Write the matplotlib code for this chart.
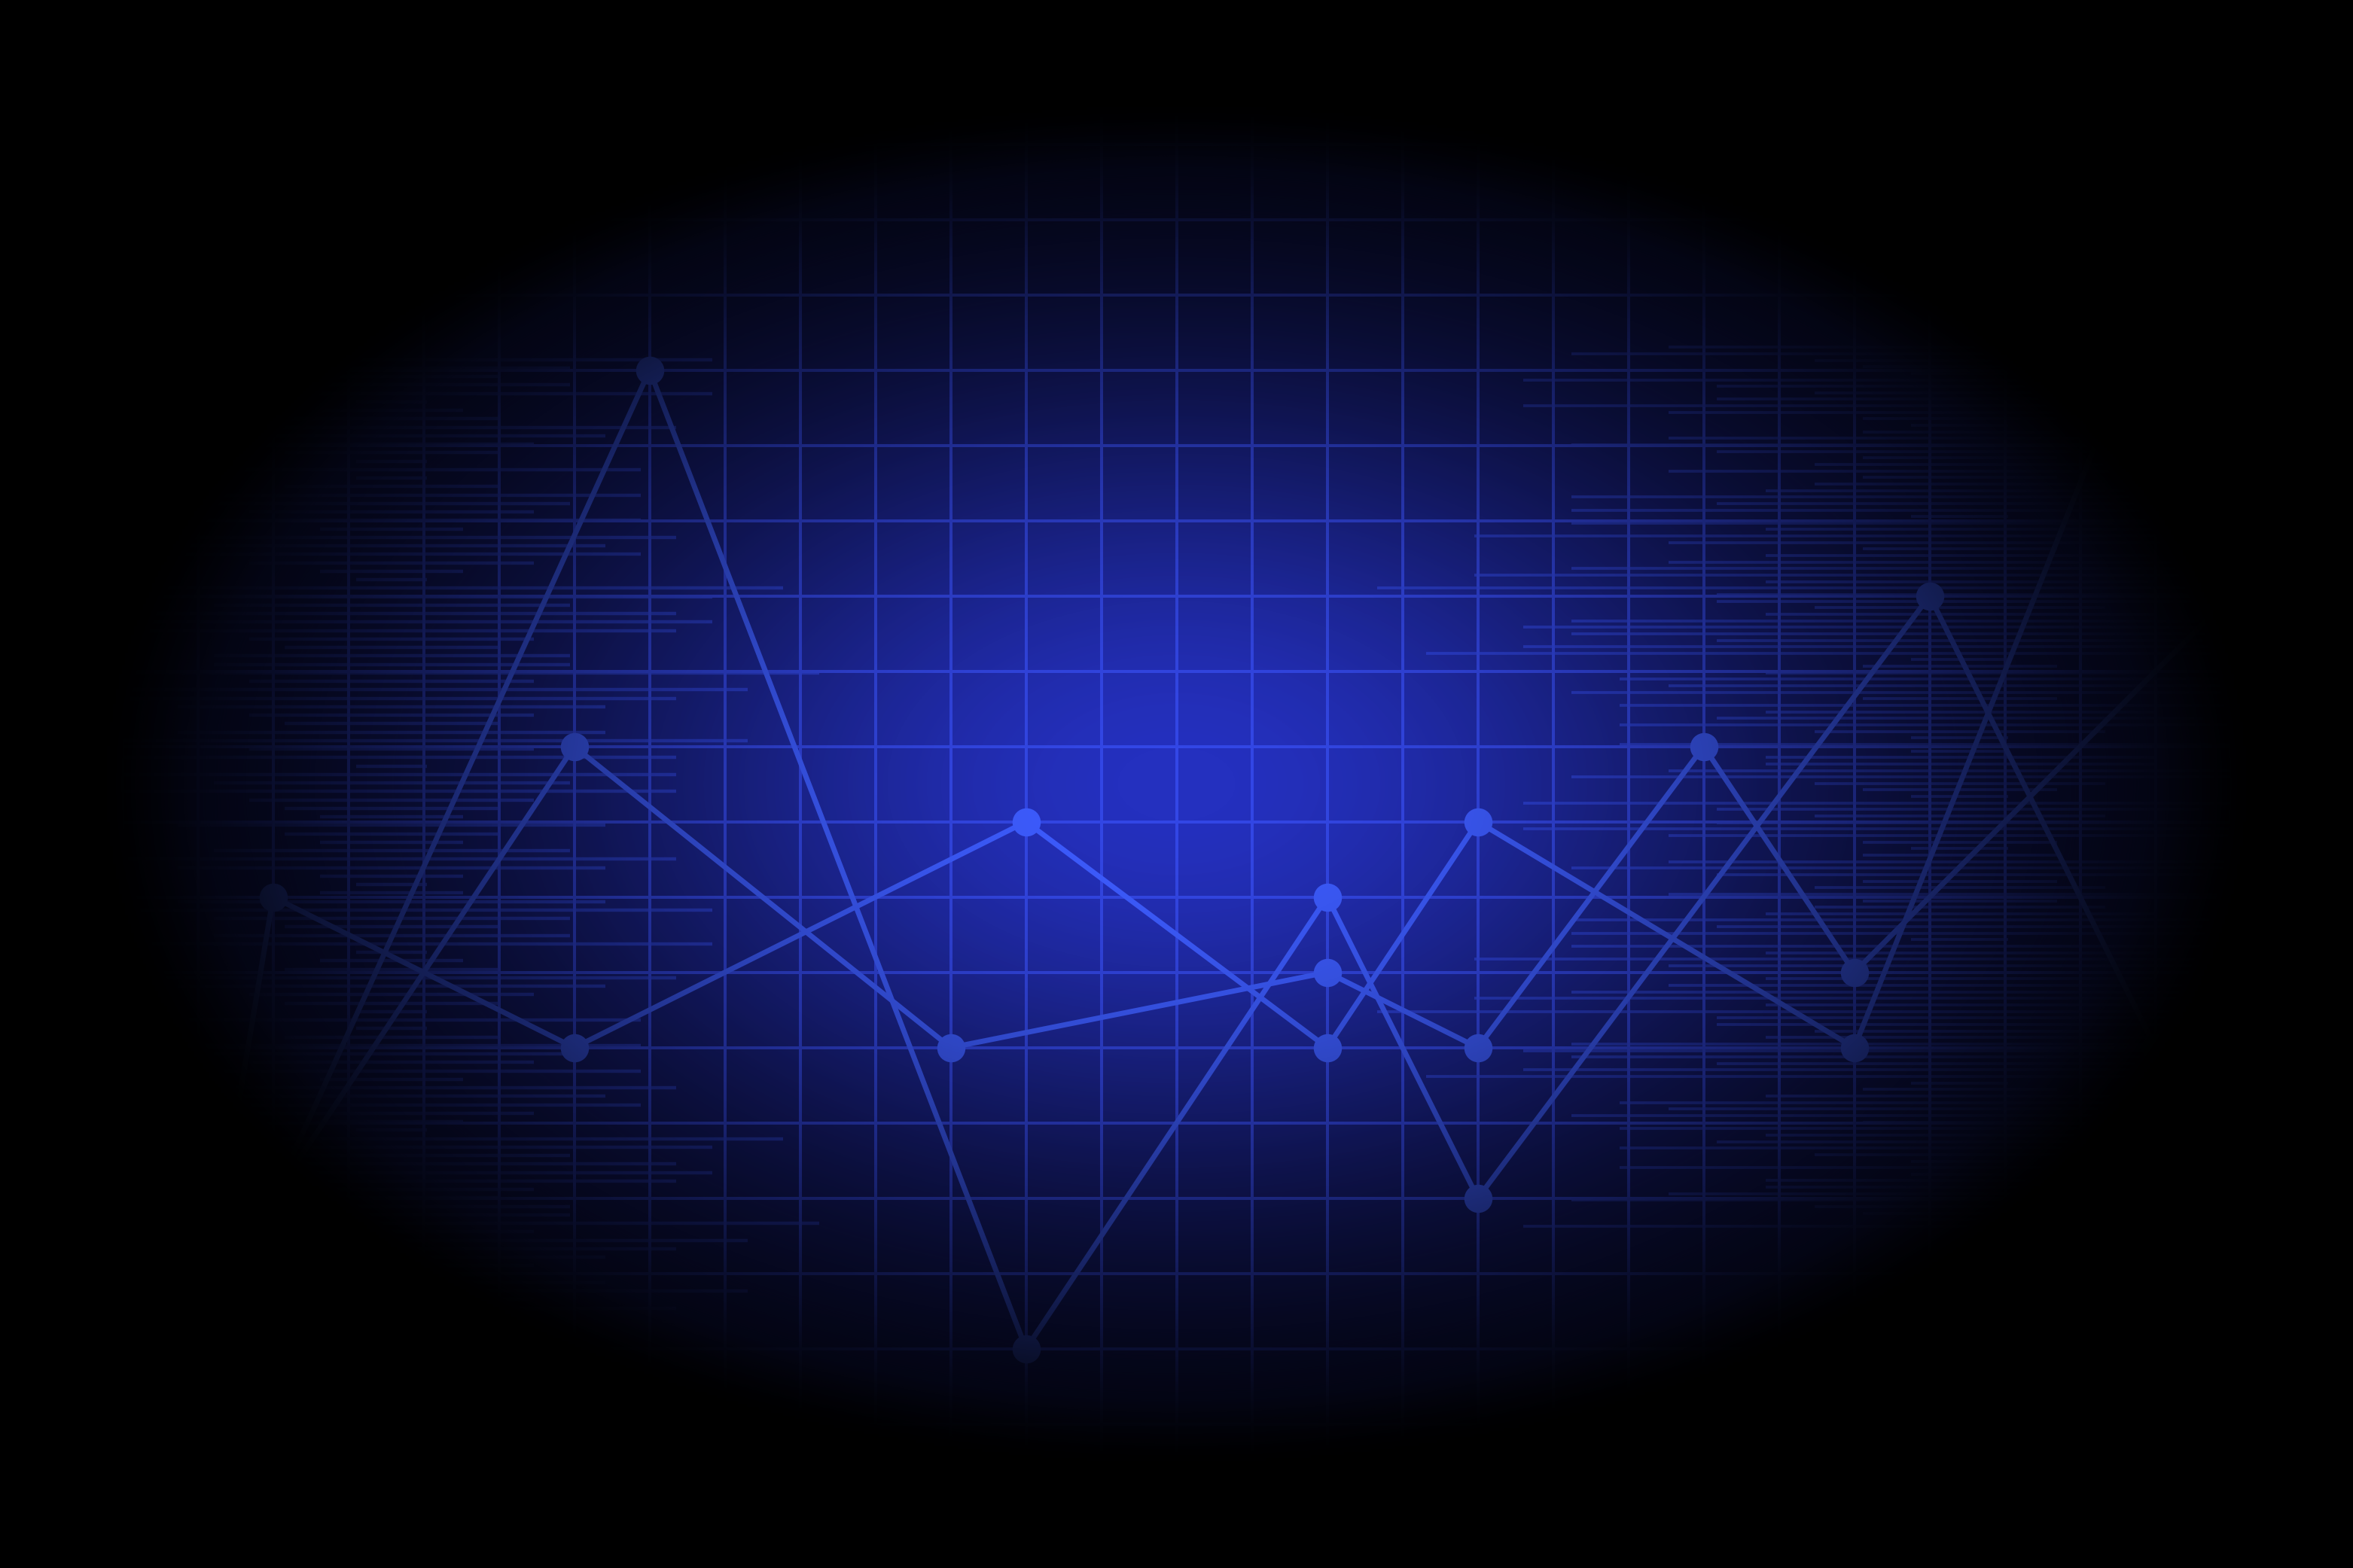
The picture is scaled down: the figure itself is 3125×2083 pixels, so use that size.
import numpy as np
import matplotlib
matplotlib.use("Agg")
import matplotlib.pyplot as plt

# ---------------- data (grid units: x = column index, y = level) ----------------
series_a_x = [2, 3, 7, 13, 17, 19, 24, 28]
series_a_y = [3, 9, 7, 10, 7, 10, 7, 17]
series_b_x = [3, 7, 12, 17, 19, 22, 24, 29]
series_b_y = [5, 11, 7, 8, 7, 11, 8, 13]
series_c_x = [3, 8, 13, 17, 19, 25, 28]
series_c_y = [5, 16, 3, 9, 5, 13, 7]

# half-lengths (in bar units) of the horizontal bar strips, one repeating block of 65 rows
left_bar_len = [8, 6, 4, 3, 1, 7, 1, 3, 7, 5, 4, 7, 2,
                8, 6, 7, 4, 2, 1, 11, 9, 5, 8, 9, 8, 4, 3, 5, 5, 12, 4, 10, 8, 6, 4, 3, 6, 10, 4, 8,
                1, 8, 5, 8, 4, 3, 2, 6, 3, 2, 5, 8,
                6, 2, 1, 2, 6, 9, 5, 3, 5, 9, 1, 2, 3]
right_bar_len = [6, 8, 3, 2, 1, 9, 5, 3, 5, 9, 6, 2, 1, 2, 6, 8, 5, 2, 3, 6, 2, 3, 4, 8, 5,
                 8, 1, 8, 4, 10, 6, 2, 4, 6, 8, 10, 4, 12, 5, 5, 3, 4, 8, 9, 8, 5, 9, 11, 1, 2,
                 4, 7, 6, 8, 2, 7, 4, 5, 7, 3, 1, 7, 1, 4, 4]

# ---------------- figure ----------------
W, H, DPI = 3125, 2083, 100
fig = plt.figure(figsize=(W / DPI, H / DPI), dpi=DPI)
fig.patch.set_facecolor("black")
ax = fig.add_axes([0, 0, 1, 1])
ax.set_axis_off()
X0, X1 = -0.627, 30.623
Y0, Y1 = 0.087, 20.917
ax.set_xlim(X0, X1)
ax.set_ylim(Y0, Y1)

# radial falloff fields
nx, ny = 780, 520
gx = np.linspace(X0, X1, nx)
gy = np.linspace(Y1, Y0, ny)
GX, GY = np.meshgrid(gx, gy)
cx, cy = (X0 + X1) / 2, (Y0 + Y1) / 2
r = np.sqrt(((GX - cx) / 14.2) ** 2 + ((GY - cy) / 9.0) ** 2)
m = np.clip(1 - r ** 2, 0, 1) ** 1.3                       # vignette on everything
b = np.exp(-(r / 0.6) ** 2)                                # background glow
g = np.clip(b / np.maximum(m, 1e-4), 0, 1)

base = np.array([37, 49, 192]) / 255.0
bg = g[..., None] * base
ax.imshow(bg, extent=[X0, X1, Y0, Y1], aspect="auto", zorder=0, interpolation="bilinear")

# grid
grid_col = "#3347e6"
ax.vlines(np.arange(0, 31), Y0, Y1, color=grid_col, lw=2.9, zorder=1)
ax.hlines(np.arange(1, 21), X0, X1, color=grid_col, lw=2.9, zorder=1)

# bar strips
bar_col = "#3248e4"
left_rows = np.arange(-8, 105)
left_y = 20 - (567.6 + 11.25 * left_rows - 91.7) / 100
left_len = np.array([left_bar_len[n % 65] for n in left_rows])
lc, lu = 4.573, 0.473
ax.hlines(left_y, lc - left_len * lu, lc + left_len * lu, color=bar_col, lw=3.2, alpha=0.72, zorder=2)

right_rows = np.arange(0, 136)
right_y = 20 - (461.3 + 8.65 * right_rows - 91.7) / 100
right_len = np.array([right_bar_len[n % 65] for n in right_rows])
rc, ru = 25.403, 0.645
ax.hlines(right_y, rc - right_len * ru, rc + right_len * ru, color=bar_col, lw=2.7, alpha=0.72, zorder=2)

# series
line_col = "#3d5cff"
for xs, ys in [(series_a_x, series_a_y), (series_b_x, series_b_y), (series_c_x, series_c_y)]:
    ax.plot(xs, ys, color=line_col, lw=5.0, zorder=3, solid_capstyle="round")
    ax.plot(xs, ys, "o", color=line_col, ms=27, mew=0, zorder=4)

# vignette overlay
ov = np.zeros((ny, nx, 4))
ov[..., 3] = 1 - m
ax.imshow(ov, extent=[X0, X1, Y0, Y1], aspect="auto", zorder=10, interpolation="bilinear")

ax.set_xlim(X0, X1)
ax.set_ylim(Y0, Y1)
fig.savefig("out.png", dpi=DPI, facecolor="black")
